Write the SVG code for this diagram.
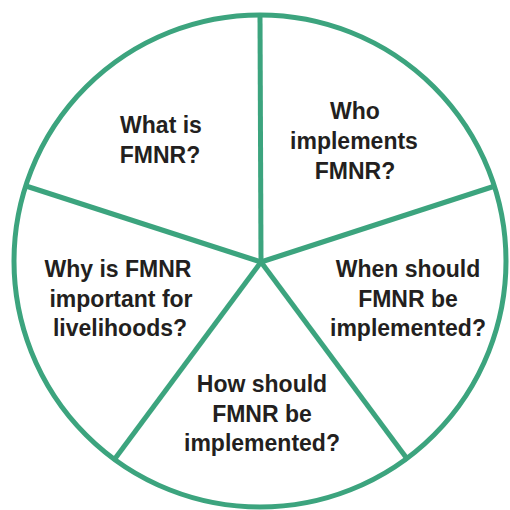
<svg xmlns="http://www.w3.org/2000/svg" width="510" height="510" viewBox="0 0 510 510">
<style>
.ln{stroke:#3ca47e;stroke-width:5;fill:none;stroke-linecap:butt}
.t{font-family:"Liberation Sans",Arial,sans-serif;font-weight:bold;font-size:23px;fill:#231f20;text-anchor:middle}
</style>
<rect width="510" height="510" fill="#fff"/>
<g id="connectors">
<circle class="ln" cx="260" cy="261" r="246"/>
<line class="ln" x1="261" y1="262" x2="260" y2="15"/>
<line class="ln" x1="261" y1="262" x2="495" y2="186"/>
<line class="ln" x1="261" y1="262" x2="408" y2="460"/>
<line class="ln" x1="261" y1="262" x2="114" y2="460"/>
<line class="ln" x1="261" y1="262" x2="26" y2="186"/>
</g>
<g id="what">
<text class="t" x="161" y="133">What is</text>
<text class="t" x="160" y="163">FMNR?</text>
</g>
<g id="who">
<text class="t" x="355" y="119">Who</text>
<text class="t" x="354" y="149">implements</text>
<text class="t" x="355" y="179">FMNR?</text>
</g>
<g id="when">
<text class="t" x="408" y="277">When should</text>
<text class="t" x="408" y="307">FMNR be</text>
<text class="t" x="408" y="336">implemented?</text>
</g>
<g id="why">
<text class="t" x="118" y="277">Why is FMNR</text>
<text class="t" x="121" y="307">important for</text>
<text class="t" x="120" y="336">livelihoods?</text>
</g>
<g id="how">
<text class="t" x="262" y="392">How should</text>
<text class="t" x="262" y="422">FMNR be</text>
<text class="t" x="262" y="451">implemented?</text>
</g>
</svg>
